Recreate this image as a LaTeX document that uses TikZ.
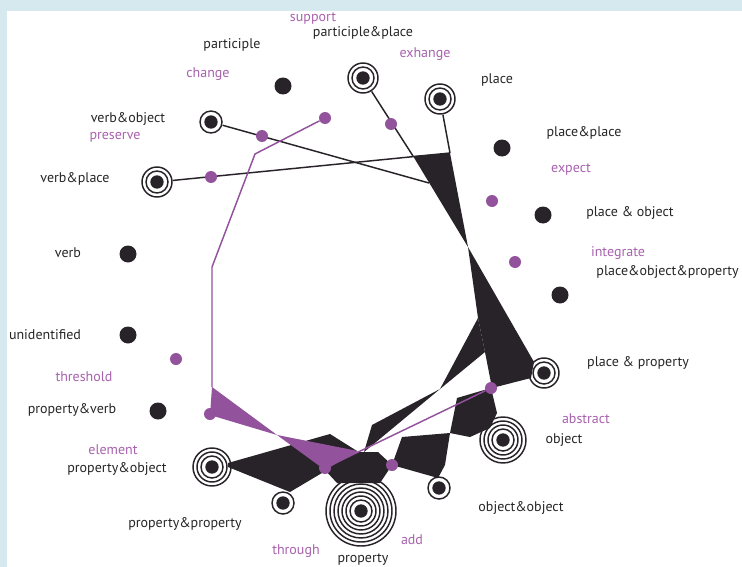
\documentclass[tikz,border=0pt]{standalone}
\usepackage{fontspec}
\setmainfont{PT Sans}
\usepackage{tikz}
\usetikzlibrary{calc}
\definecolor{dotColor}{RGB}{40,35,40}
\definecolor{verbColor}{RGB}{146,82,156}
\definecolor{verbText}{RGB}{168,98,174}
\definecolor{wordText}{RGB}{38,38,38}
\definecolor{frameColor}{RGB}{213,233,239}
\tikzset{
    worddot/.style={circle, fill=dotColor, inner sep=0pt, minimum size=12.75pt},
    verbdot/.style={circle, fill=verbColor, inner sep=0pt, minimum size=9pt},
    ringline/.style={draw=dotColor, line width=1.1pt},
    wordlabel/.style={text=wordText, font=\fontsize{10.5}{12}\selectfont, inner sep=0pt},
    verblabel/.style={text=verbText, font=\fontsize{10.5}{12}\selectfont, inner sep=0pt},
    link/.style={draw=dotColor, line width=1.1pt},
    verblink/.style={draw=verbColor, line width=1.1pt},
    ribbon/.style={fill=dotColor},
    verbribbon/.style={fill=verbColor}
}
\newcommand{\ringnode}[3]{%
    \node[circle, inner sep=0pt, minimum size={11.6pt+#3*6pt}] (#1) at (#2) {};
    \fill[dotColor] (#1) circle[radius=5pt];
    \foreach \k in {1,...,#3}{\draw[ringline] (#1) circle[radius=5.25pt+\k*3pt];}
}

\begin{document}
\begin{tikzpicture}[x=0.75pt, y=-0.75pt]
    \clip (0,0) rectangle (742,567);
    \fill[frameColor] (0,0) rectangle (742,567);
    \fill[white] (7,11) rectangle (742,567);

    \coordinate (hubL) at (413,156);
    \coordinate (hubR) at (450,153);
    \coordinate (hubE) at (429,183);
    \coordinate (pinchA) at (468,247);
    \coordinate (pinchB) at (440,389);
    \coordinate (elemTop) at (212,387);
    \coordinate (bendA) at (255,154);
    \coordinate (bendB) at (212,267);

    \fill[ribbon] (hubL) -- (hubR) -- (pinchA) -- cycle;
    \fill[ribbon] (pinchA) -- (534,362) -- (531,378) -- (492,388) -- (485,352) -- (478,318) -- cycle;
    \fill[ribbon] (478,318) -- (485,352) -- (pinchB) -- cycle;
    \fill[ribbon] (pinchB) -- (372,425) -- (364,452) -- cycle;
    \fill[ribbon] (228,463) -- (330,434) -- (357,451) -- (327,470) -- (290,492) -- (228,467) -- cycle;
    \fill[ribbon] (325,470) -- (337,483) -- (380,483) -- (392,465) -- (378,452) -- (357,452) -- cycle;
    \fill[ribbon] (392,465) -- (402,437) -- (450,433) -- (445,465) -- (438,478) -- cycle;
    \fill[ribbon] (450,433) -- (457,398) -- (491,388) -- (497,413) -- (490,428) -- (470,437) -- cycle;
    \fill[verbribbon] (elemTop) -- (210,415) -- (277,435) -- cycle;
    \fill[verbribbon] (277,435) -- (358,451) -- (325,470) -- cycle;

    \ringnode{ppl}{363,78}{2}
    \ringnode{place}{440,99}{2}
    \ringnode{vo}{211,122}{1}
    \ringnode{vpl}{157,182}{2}
    \ringnode{plpr}{544,373}{2}
    \ringnode{obj}{503,440}{4}
    \ringnode{oo}{439,488}{1}
    \ringnode{prop}{361,511}{7}
    \ringnode{pp}{283,503}{1}
    \ringnode{po}{212,467}{3}

    \node[worddot] (part) at (283,86) {};
    \node[worddot] (plpl) at (502,148) {};
    \node[worddot] (plo) at (543,215) {};
    \node[worddot] (plop) at (560,295) {};
    \node[worddot] (verb) at (128,254) {};
    \node[worddot] (unid) at (128,335) {};
    \node[worddot] (pv) at (158,411) {};

    \draw[link] (vo) -- (hubE);
    \draw[link] (vpl) -- (hubR);
    \draw[link] (ppl) -- (hubL);
    \draw[link] (place) -- (hubR);

    \node[verbdot] (vchange) at (325,118) {};
    \node[verbdot] (vpreserve) at (262,136) {};
    \node[verbdot] (vsupport) at (211,177) {};
    \node[verbdot] (vexhange) at (391,124) {};
    \node[verbdot] (vexpect) at (492,201) {};
    \node[verbdot] (vintegrate) at (515,262) {};
    \node[verbdot] (vthreshold) at (176,359) {};
    \node[verbdot] (velement) at (210,414) {};
    \node[verbdot] (vthrough) at (325,468) {};
    \node[verbdot] (vadd) at (392,465) {};
    \node[verbdot] (vabstract) at (491,388) {};

    \draw[verblink] (vchange) -- (bendA) -- (bendB) -- (elemTop);
    \draw[verblink] (vthrough) -- (vabstract);

    \node[wordlabel] (lpart) at (232,45) {participle};
    \node[wordlabel] (lppl) at (363,33) {participle\&place};
    \node[wordlabel] (lplace) at (497,80) {place};
    \node[wordlabel] (lplpl) at (584,133) {place\&place};
    \node[wordlabel] (lplo) at (630,213) {place \& object};
    \node[wordlabel, anchor=east] (lplop) at (739,272) {place\&object\&property};
    \node[wordlabel] (lplpr) at (638,363) {place \& property};
    \node[wordlabel] (lobj) at (564,440) {object};
    \node[wordlabel] (loo) at (521,508) {object\&object};
    \node[wordlabel] (lprop) at (363,560) {property};
    \node[wordlabel] (lpp) at (185,524) {property\&property};
    \node[wordlabel] (lpo) at (117,469) {property\&object};
    \node[wordlabel] (lpv) at (72,410) {property\&verb};
    \node[wordlabel] (lunid) at (45,335) {unidentified};
    \node[wordlabel] (lverb) at (68,253) {verb};
    \node[wordlabel] (lvpl) at (75,179) {verb\&place};
    \node[wordlabel] (lvo) at (128,119) {verb\&object};

    \node[verblabel] (lsupport) at (313,19) {support};
    \node[verblabel] (lchange) at (208,74) {change};
    \node[verblabel] (lpreserve) at (115,137) {preserve};
    \node[verblabel] (lexhange) at (425,54) {exhange};
    \node[verblabel] (lexpect) at (571,170) {expect};
    \node[verblabel] (lintegrate) at (618,253) {integrate};
    \node[verblabel] (labstract) at (586,419) {abstract};
    \node[verblabel] (ladd) at (412,540) {add};
    \node[verblabel] (lthrough) at (296,551) {through};
    \node[verblabel] (lelement) at (113,450) {element};
    \node[verblabel] (lthreshold) at (84,377) {threshold};
\end{tikzpicture}
\end{document}
